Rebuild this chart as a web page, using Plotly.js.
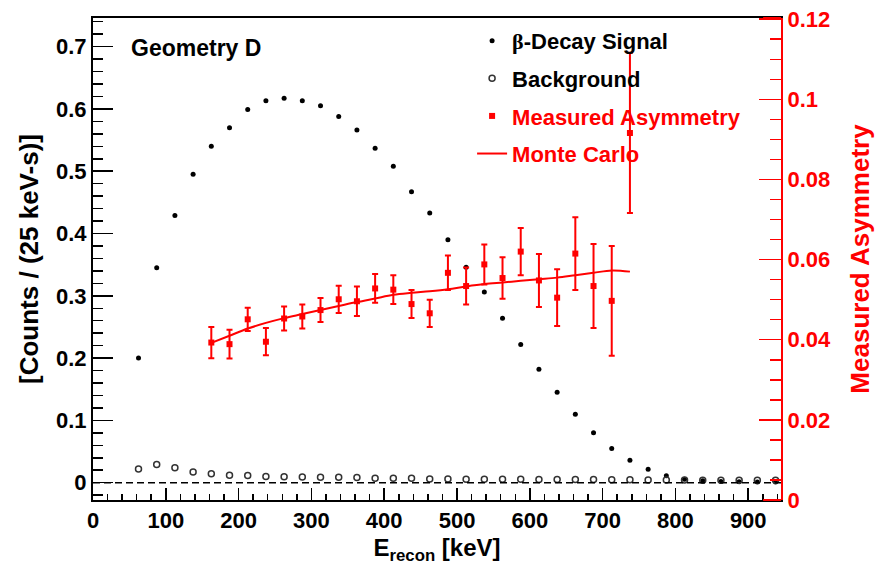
<!DOCTYPE html>
<html>
<head>
<meta charset="utf-8">
<script src="https://cdn.plot.ly/plotly-3.0.1.min.js"></script>
<style>html,body{margin:0;padding:0;background:#fff;}#chart{width:875px;height:565px;}</style>
</head>
<body>
<div id="chart"></div>
<script>
// Bin centres (keV) for signal and background spectra
const energies = [62.5, 87.5, 112.5, 137.5, 162.5, 187.5, 212.5, 237.5, 262.5, 287.5,
  312.5, 337.5, 362.5, 387.5, 412.5, 437.5, 462.5, 487.5, 512.5, 537.5,
  562.5, 587.5, 612.5, 637.5, 662.5, 687.5, 712.5, 737.5, 762.5, 787.5,
  812.5, 837.5, 862.5, 887.5, 912.5, 937.5];
// beta-decay signal rate [Counts/(25 keV-s)]
const signalRate = [0.200, 0.345, 0.429, 0.495, 0.540, 0.570, 0.599, 0.613, 0.617, 0.613,
  0.605, 0.588, 0.566, 0.537, 0.508, 0.467, 0.433, 0.390, 0.346, 0.306,
  0.264, 0.222, 0.182, 0.145, 0.110, 0.080, 0.055, 0.036, 0.0215, 0.011,
  0.0055, 0.003, 0.002, 0.0015, 0.001, 0.001];
// background rate
const backgroundRate = [0.022, 0.029, 0.024, 0.017, 0.0145, 0.012, 0.0115, 0.010, 0.0097, 0.009,
  0.0086, 0.0086, 0.0085, 0.007, 0.007, 0.007, 0.006, 0.006, 0.0055, 0.0055,
  0.0055, 0.0055, 0.005, 0.005, 0.005, 0.005, 0.0048, 0.0048, 0.0045, 0.0045,
  0.0045, 0.004, 0.004, 0.004, 0.004, 0.004];
// Measured asymmetry (right axis)
const asymEnergies = [162.5, 187.5, 212.5, 237.5, 262.5, 287.5, 312.5, 337.5, 362.5, 387.5,
  412.5, 437.5, 462.5, 487.5, 512.5, 537.5, 562.5, 587.5, 612.5, 637.5,
  662.5, 687.5, 712.5, 737.5];
const asymValues = [0.0393, 0.0389, 0.0451, 0.0395, 0.0453, 0.0458, 0.0474, 0.0501, 0.0496, 0.0528,
  0.0525, 0.0489, 0.0466, 0.0567, 0.0534, 0.0588, 0.0554, 0.0620, 0.0548, 0.0505,
  0.0615, 0.0534, 0.0497, 0.0916];
const asymErrors = [0.0039, 0.0036, 0.0029, 0.0034, 0.0030, 0.0030, 0.0030, 0.0034, 0.0037, 0.0036,
  0.0036, 0.0035, 0.0034, 0.0043, 0.0046, 0.0050, 0.0052, 0.0059, 0.0066, 0.0071,
  0.0091, 0.0105, 0.0137, 0.0200];
// Monte Carlo expectation (right axis)
const mcEnergies = asymEnergies;
const mcValues = [0.0392, 0.0410, 0.0428, 0.0442, 0.0454, 0.0464, 0.0474, 0.0484, 0.0494, 0.0503,
  0.0512, 0.0517, 0.0521, 0.0526, 0.0533, 0.0539, 0.0543, 0.0547, 0.0551, 0.0555,
  0.0561, 0.0567, 0.0573, 0.0570];

const FONT = 'Liberation Sans, Arial, Helvetica, sans-serif';
const RED = '#ff0000';

const traces = [
  {
    x: energies, y: signalRate, type: 'scatter', mode: 'markers',
    name: '<span style="font-family:Liberation Serif">β</span>-Decay Signal',
    legendgroup: 'a', legendrank: 1,
    marker: {symbol: 'circle', size: 5, color: '#000'}
  },
  {
    x: energies, y: backgroundRate, type: 'scatter', mode: 'markers',
    name: 'Background', legendgroup: 'b', legendrank: 2,
    marker: {symbol: 'circle-open', size: 6, color: '#333', line: {width: 1.5, color: '#333'}}
  },
  {
    x: asymEnergies, y: asymValues, type: 'scatter', mode: 'markers', yaxis: 'y2',
    name: '<span style="color:#ff0000">Measured Asymmetry</span>', legendgroup: 'c', legendrank: 3,
    marker: {symbol: 'square', size: 6, color: RED},
    error_y: {type: 'data', array: asymErrors, visible: true, color: RED, thickness: 2, width: 3}
  },
  {
    x: mcEnergies, y: mcValues, type: 'scatter', mode: 'lines', yaxis: 'y2',
    name: '<span style="color:#ff0000">Monte Carlo</span>', legendgroup: 'd', legendrank: 4,
    line: {color: RED, width: 2, shape: 'spline'}
  }
];

const layout = {
  width: 875, height: 565,
  margin: {l: 93, r: 94, t: 18, b: 65},
  paper_bgcolor: '#fff', plot_bgcolor: '#fff',
  font: {family: FONT, color: '#000'},
  showlegend: true,
  legend: {
    x: 0.551, y: 0.996, xanchor: 'left', yanchor: 'top',
    bgcolor: 'rgba(0,0,0,0)', borderwidth: 0,
    font: {family: FONT, size: 22, weight: 'bold', color: '#000'},
    traceorder: 'grouped', tracegroupgap: 6
  },
  xaxis: {
    range: [0, 945], tick0: 0, dtick: 100,
    ticks: 'inside', ticklen: 12, tickwidth: 1.5, tickcolor: '#000',
    minor: {dtick: 20, ticks: 'inside', ticklen: 6, tickwidth: 1.5, tickcolor: '#000'},
    showline: true, linewidth: 2, linecolor: '#000', mirror: true,
    showgrid: false, zeroline: false,
    tickfont: {family: FONT, size: 22, weight: 'bold', color: '#000'},
    title: {text: 'E<sub>recon</sub> [keV]', font: {family: FONT, size: 24, weight: 'bold', color: '#000'}, standoff: 8}
  },
  yaxis: {
    range: [-0.0278, 0.746], tick0: 0, dtick: 0.1,
    ticks: 'inside', ticklen: 20, tickwidth: 1.5, tickcolor: '#000',
    minor: {dtick: 0.02, ticks: 'inside', ticklen: 10, tickwidth: 1.5, tickcolor: '#000'},
    showline: true, linewidth: 2, linecolor: '#000',
    showgrid: false, zeroline: false,
    tickfont: {family: FONT, size: 22, weight: 'bold', color: '#000'},
    title: {text: '[Counts / (25 keV-s)]', font: {family: FONT, size: 26, weight: 'bold', color: '#000'}, standoff: 10}
  },
  yaxis2: {
    overlaying: 'y', side: 'right',
    range: [0, 0.1203], tick0: 0, dtick: 0.02,
    ticks: 'inside', ticklen: 22, tickwidth: 1.5, tickcolor: RED,
    minor: {dtick: 0.005, ticks: 'inside', ticklen: 11, tickwidth: 1.5, tickcolor: RED},
    showline: true, linewidth: 2, linecolor: RED,
    showgrid: false, zeroline: false,
    tickfont: {family: FONT, size: 22, weight: 'bold', color: RED},
    title: {text: 'Measured Asymmetry', font: {family: FONT, size: 26, weight: 'bold', color: RED}, standoff: 22}
  },
  shapes: [
    {type: 'line', xref: 'paper', yref: 'y', x0: 0, x1: 1, y0: 0, y1: 0,
     line: {color: '#000', width: 1.5, dash: '7px,4px'}},
    {type: 'line', xref: 'paper', yref: 'paper', x0: 0.974, x1: 1, y0: 1, y1: 1,
     line: {color: RED, width: 2}},
    {type: 'line', xref: 'paper', yref: 'paper', x0: 0.974, x1: 1, y0: 0, y1: 0,
     line: {color: RED, width: 2}}
  ],
  annotations: [
    {text: 'Geometry D', xref: 'paper', yref: 'paper', x: 0.052, y: 0.937,
     xanchor: 'left', yanchor: 'middle', showarrow: false,
     font: {family: FONT, size: 23, weight: 'bold', color: '#000'}}
  ]
};

Plotly.newPlot('chart', traces, layout, {displayModeBar: false, staticPlot: true});
</script>
</body>
</html>
